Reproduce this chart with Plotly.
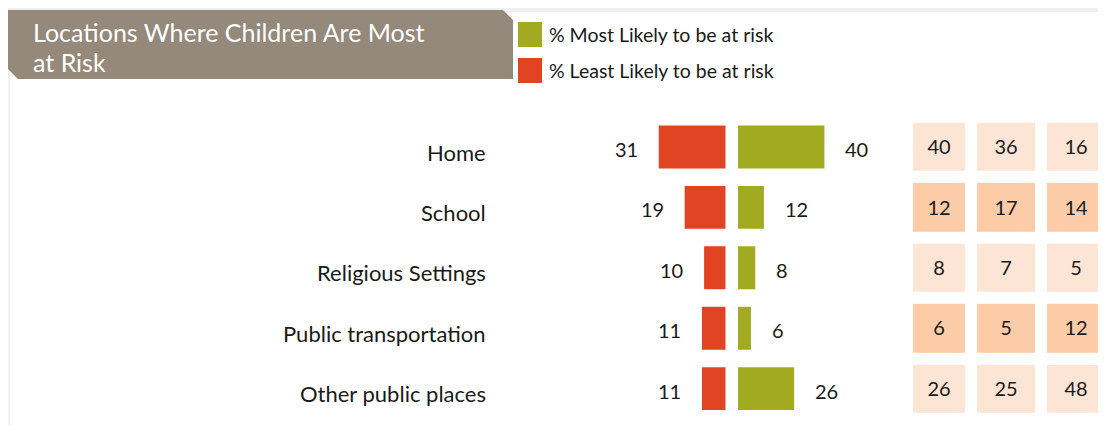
import plotly.graph_objects as go

categories = ["Home", "School", "Religious Settings", "Public transportation", "Other public places"]
least_likely = [31, 19, 10, 11, 11]
most_likely = [40, 12, 8, 6, 26]
table_values = [
    [40, 36, 16],
    [12, 17, 14],
    [8, 7, 5],
    [6, 5, 12],
    [26, 25, 48],
]
row_shade = [0, 1, 0, 1, 0]

title_line1 = "Locations Where Children Are Most"
title_line2 = "at Risk"
legend_most = "% Most Likely to be at risk"
legend_least = "% Least Likely to be at risk"

OFF = 8  # page body margin
W, H = 1106 - OFF, 425 - OFF
FONT = "Lato"
RED = "#e04423"
GREEN = "#a2aa22"
TITLE_BG = "#94897a"
CELL_LIGHT = "#fde5d6"
CELL_DARK = "#fccba8"
TXT = "#1a1a1a"

def px(x):
    return (x - OFF) / W

def py(y):
    return 1 - (y - OFF) / H

scale = 2.16  # pixels per unit
red_left, red_right = 600, 725.7
green_left, green_right = 738, 900
y_top, y_bot = 116.8, 418.8

fig = go.Figure()

fig.add_trace(go.Bar(
    y=categories, x=least_likely, orientation="h", xaxis="x", yaxis="y",
    marker=dict(color=RED, line=dict(width=0)), width=0.71, hoverinfo="skip",
    showlegend=False,
))
fig.add_trace(go.Bar(
    y=categories, x=most_likely, orientation="h", xaxis="x2", yaxis="y",
    marker=dict(color=GREEN, line=dict(width=0)), width=0.71, hoverinfo="skip",
    showlegend=False,
))

col_edges = [907, 971, 1041, 1111]
fig.add_trace(go.Heatmap(
    x=col_edges, y=categories,
    z=[[s, s, s] for s in row_shade],
    text=[[str(v) for v in row] for row in table_values],
    texttemplate="%{text}",
    textfont=dict(family=FONT, size=20, color=TXT),
    colorscale=[[0, CELL_LIGHT], [1, CELL_DARK]],
    zmin=0, zmax=1, showscale=False, xgap=12, ygap=12,
    xaxis="x3", yaxis="y", hoverinfo="skip",
))

annotations = []
for cat, v in zip(categories, least_likely):
    annotations.append(dict(x=v, y=cat, xref="x", yref="y", text=str(v),
                            showarrow=False, xanchor="right", xshift=-19, yshift=-2,
                            font=dict(family=FONT, size=20, color=TXT)))
for cat, v in zip(categories, most_likely):
    annotations.append(dict(x=v, y=cat, xref="x2", yref="y", text=str(v),
                            showarrow=False, xanchor="left", xshift=19, yshift=-2,
                            font=dict(family=FONT, size=20, color=TXT)))
for cat in categories:
    annotations.append(dict(x=px(488), y=cat, xref="paper", yref="y", text=cat,
                            showarrow=False, xanchor="right", yshift=-5,
                            font=dict(family=FONT, size=22, color=TXT)))

annotations.append(dict(x=px(31), y=py(32), xref="paper", yref="paper", text=title_line1,
                        showarrow=False, xanchor="left", yanchor="middle", align="left",
                        font=dict(family=FONT, size=25, color="white")))
annotations.append(dict(x=px(31), y=py(62), xref="paper", yref="paper", text=title_line2,
                        showarrow=False, xanchor="left", yanchor="middle", align="left",
                        font=dict(family=FONT, size=25, color="white")))
annotations.append(dict(x=px(547), y=py(34), xref="paper", yref="paper", text=legend_most,
                        showarrow=False, xanchor="left", yanchor="middle",
                        font=dict(family=FONT, size=19.5, color=TXT)))
annotations.append(dict(x=px(547), y=py(71), xref="paper", yref="paper", text=legend_least,
                        showarrow=False, xanchor="left", yanchor="middle",
                        font=dict(family=FONT, size=19.5, color=TXT)))

def path(points):
    return "M " + " L ".join(f"{px(x)},{py(y)}" for x, y in points) + " Z"

shapes = [
    dict(type="rect", xref="paper", yref="paper", x0=0, x1=1, y0=py(12), y1=py(8),
         fillcolor="#efefef", line=dict(width=0), layer="below"),
    dict(type="rect", xref="paper", yref="paper", x0=px(8), x1=px(10), y0=0, y1=py(12),
         fillcolor="#f0f0f0", line=dict(width=0), layer="below"),
    dict(type="path", xref="paper", yref="paper",
         path=path([(8, 10), (503, 10), (513, 20), (513, 79), (18, 79), (8, 69)]),
         fillcolor=TITLE_BG, line=dict(width=0)),
    dict(type="rect", xref="paper", yref="paper", x0=px(518), x1=px(542), y0=py(47), y1=py(22),
         fillcolor=GREEN, line=dict(width=0)),
    dict(type="rect", xref="paper", yref="paper", x0=px(518), x1=px(542), y0=py(83), y1=py(58),
         fillcolor=RED, line=dict(width=0)),
]

fig.update_layout(
    width=W, height=H,
    margin=dict(l=0, r=0, t=0, b=0),
    paper_bgcolor="white", plot_bgcolor="rgba(0,0,0,0)",
    barmode="overlay",
    xaxis=dict(domain=[px(red_left), px(red_right)],
               range=[(red_right - red_left) / scale, 0],
               visible=False, fixedrange=True, anchor="y"),
    xaxis2=dict(domain=[px(green_left), px(green_right)],
                range=[0, (green_right - green_left) / scale],
                visible=False, fixedrange=True, anchor="y"),
    xaxis3=dict(domain=[px(900), 1], range=[900, 1106],
                visible=False, fixedrange=True, anchor="y"),
    yaxis=dict(domain=[py(y_bot), py(y_top)], type="category",
               categoryorder="array", categoryarray=categories,
               range=[4.5, -0.5], visible=False, fixedrange=True),
    annotations=annotations,
    shapes=shapes,
    font=dict(family=FONT),
)

fig.write_html("out.html")
